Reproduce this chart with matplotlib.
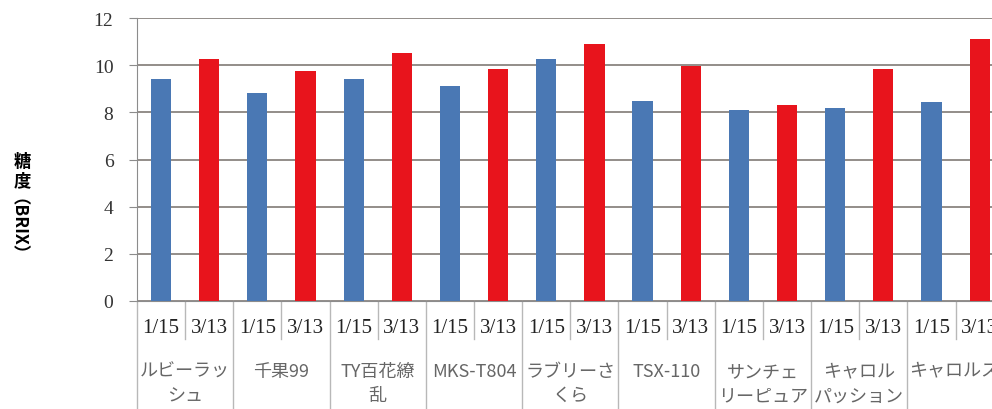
import matplotlib.pyplot as plt
import matplotlib.transforms as mtransforms
import numpy as np

plt.rcParams['font.family'] = ['Noto Sans CJK JP', 'DejaVu Sans']

groups = ['ルビーラッ\nシュ', '千果99', 'TY百花繚\n乱', 'MKS-T804', 'ラブリーさ\nくら',
          'TSX-110', 'サンチェ\nリーピュア', 'キャロル\nパッション', 'キャロルスター']
dates = ['1/15', '3/13']
jan15 = [9.4, 8.8, 9.4, 9.1, 10.25, 8.5, 8.1, 8.2, 8.45]
mar13 = [10.27, 9.75, 10.5, 9.82, 10.9, 9.97, 8.3, 9.82, 11.12]

W, H = 992, 410
fig = plt.figure(figsize=(W / 100, H / 100), dpi=100)
ax = fig.add_axes([137 / W, (H - 302) / H, 9 * 96.3 / W, (302 - 19) / H])

x = np.arange(len(groups))
ax.bar(x + 0.25, jan15, width=0.21, color='#4a78b4', zorder=3)
ax.bar(x + 0.75, mar13, width=0.21, color='#e8141c', zorder=3)

ax.set_xlim(0, len(groups))
ax.set_ylim(0, 12)
ax.set_yticks(range(0, 13, 2))
ax.set_yticklabels([str(v) for v in range(0, 13, 2)], family='Liberation Serif', fontsize=14,
                   color='#333333')
ax.tick_params(axis='y', length=6, color='#8c8c8c', pad=11)
ax.set_xticks([])
ax.grid(axis='y', color='#8a8580', linewidth=1.3, zorder=0)
for s in ['top', 'right']:
    ax.spines[s].set_visible(False)
ax.spines['left'].set_color('#8c8c8c')
ax.spines['bottom'].set_color('#8c8c8c')

trans = mtransforms.blended_transform_factory(ax.transData, ax.transAxes)
for i, name in enumerate(groups):
    ax.plot([i, i], [0, -0.385], transform=trans, color='#b8b8b8', lw=1, clip_on=False)
    ax.plot([i + 0.5, i + 0.5], [0, -0.135], transform=trans, color='#b8b8b8', lw=1, clip_on=False)
    for j, d in enumerate(dates):
        ax.text(i + 0.25 + 0.5 * j, -0.092, d, transform=trans, ha='center', va='center',
                family='Liberation Serif', fontsize=15, color='#222222')
    # the last label is wider than its slot and runs off the right edge
    if i == len(groups) - 1:
        ax.text(i + 0.02, -0.215, name, transform=trans, ha='left', va='top',
                fontsize=13, color='#666666')
    else:
        ax.text(i + 0.5, -0.215, name, transform=trans, ha='center', va='top',
                fontsize=13, color='#666666', linespacing=1.45)

fig.text(22 / W, 1 - 172 / H, '糖\n度', ha='center', va='center', fontsize=12.5,
         fontweight='bold', linespacing=1.1)
fig.text(8 / W, 1 - 236 / H, '（BRIX）', ha='center', va='center', fontsize=12.5,
         fontweight='bold', rotation=270)

fig.savefig('out.png', dpi=100)
